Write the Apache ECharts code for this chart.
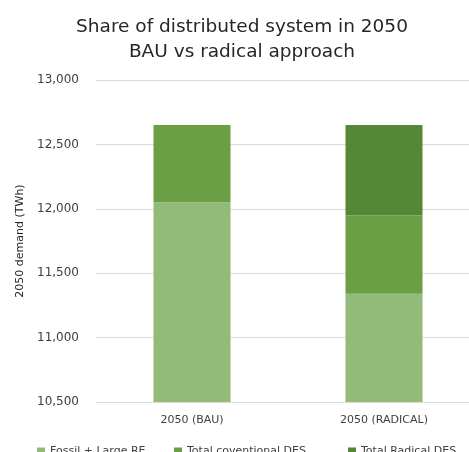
<!DOCTYPE html>
<html><head><meta charset="utf-8">
<script src="https://cdn.jsdelivr.net/npm/echarts@6/dist/echarts.min.js"></script>
<style>html,body{margin:0;padding:0;background:#fff}#c{width:469px;height:452px}</style>
</head><body><div id="c"></div>
<script>
const categories = ['2050 (BAU)', '2050 (RADICAL)'];
const fossilLargeRE = [12050, 11340];
const conventionalDES = [600, 610];
const radicalDES = [0, 700];
const seriesNames = ['Fossil + Large RE', 'Total coventional DES', 'Total Radical DES'];
const colors = ['#92BB79', '#6AA043', '#568737'];
const FONT = '"DejaVu Sans", sans-serif';

const legendLefts = [37, 174, 348];
const legends = seriesNames.map((n, i) => ({
  left: legendLefts[i], top: 446, padding: 0, icon: 'rect', itemWidth: 8, itemHeight: 8,
  textStyle: {fontFamily: FONT, fontSize: 11, color: '#404040'},
  data: [n]
}));

const chart = echarts.init(document.getElementById('c'));
chart.setOption({
  animation: false,
  textStyle: {fontFamily: FONT},
  title: {
    text: 'Share of distributed system in 2050\nBAU vs radical approach',
    left: 237, textAlign: 'center', top: 10,
    textStyle: {fontFamily: FONT, fontSize: 18.5, fontWeight: 'normal', color: '#262626', lineHeight: 25}
  },
  legend: legends,
  grid: {left: 96, top: 80, width: 384, height: 322, containLabel: false, outerBoundsMode: 'none'},
  xAxis: {
    type: 'category', data: categories,
    axisLine: {show: false}, axisTick: {show: false},
    axisLabel: {margin: 13, fontFamily: FONT, fontSize: 11, color: '#404040'}
  },
  yAxis: {
    type: 'value', min: 10500, max: 13000, interval: 500,
    name: '2050 demand (TWh)', nameLocation: 'middle', nameGap: 70,
    nameTextStyle: {fontFamily: FONT, fontSize: 11, color: '#262626'},
    axisLine: {show: false}, axisTick: {show: false},
    axisLabel: {margin: 17, fontFamily: FONT, fontSize: 12, color: '#404040',
      formatter: v => v.toLocaleString('en-US')},
    splitLine: {lineStyle: {color: '#D9D9D9', width: 1}}
  },
  series: [
    {name: seriesNames[0], type: 'bar', stack: 't', data: fossilLargeRE, barWidth: 77, itemStyle: {color: colors[0]}},
    {name: seriesNames[1], type: 'bar', stack: 't', data: conventionalDES, barWidth: 77, itemStyle: {color: colors[1]}},
    {name: seriesNames[2], type: 'bar', stack: 't', data: radicalDES, barWidth: 77, itemStyle: {color: colors[2]}}
  ]
});
</script></body></html>
